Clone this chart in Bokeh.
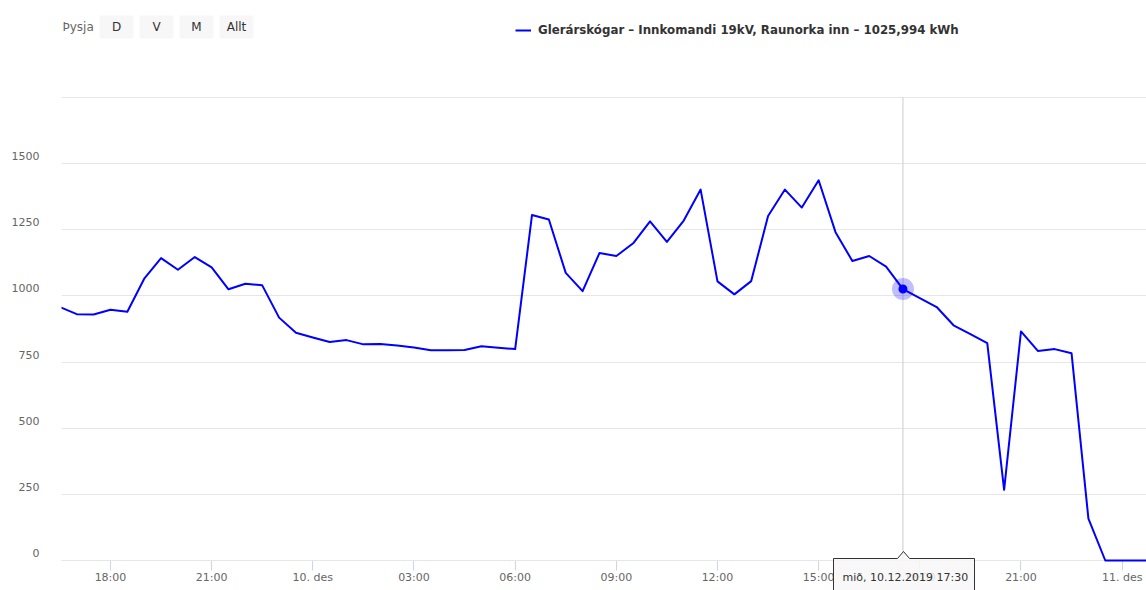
import pandas as pd
from bokeh.plotting import figure
from bokeh.models import (Range1d, FixedTicker, Label, BoxAnnotation, LinearAxis,
                          PolyAnnotation, ColumnDataSource)
from bokeh.embed import file_html
from bokeh.resources import INLINE

# ---------------- data ----------------
times = pd.date_range("2019-12-09 16:30", periods=66, freq="30min")
kwh = [958, 931, 930, 948, 940, 1065, 1143, 1099, 1147, 1108,
       1025, 1046, 1040, 918, 861, 843, 826, 833, 817, 818,
       813, 805, 795, 795, 796, 810, 804, 799, 1306, 1289,
       1087, 1018, 1162, 1151, 1199, 1282, 1204, 1285, 1402, 1055,
       1006, 1056, 1302, 1402, 1334, 1437, 1241, 1132, 1151, 1111,
       1025.994, 992, 958, 889, 856, 822, 267, 866, 792, 799,
       783, 158, 0, 0, 0, 0]
tick_times = pd.date_range("2019-12-09 18:00", "2019-12-11 00:00", freq="3h")
tick_labels = ["18:00", "21:00", "10. des", "03:00", "06:00", "09:00",
               "12:00", "15:00", "18:00", "21:00", "11. des"]
y_ticks = [0, 250, 500, 750, 1000, 1250, 1500, 1750]
y_max = 1750
series_name = "Glerárskógar – Innkomandi 19kV, Raunorka inn"
hover_time = pd.Timestamp("2019-12-10 17:30")
hover_value = 1025.994
hover_text = "mið, 10.12.2019 17:30"
zoom_label = "Þysja"
range_buttons = ["D", "V", "M", "Allt"]
view_start = pd.Timestamp("2019-12-09 16:32:50")
view_end = pd.Timestamp("2019-12-11 00:43:20")


def to_ms(t):
    return int(pd.Timestamp(t).value // 10**6)


FONT = "DejaVu Sans"
LINE_COLOR = "#0000ff"
W, H = 1146, 590
LEFT = 61                 # plot area left edge (px)
TOP_PX, ZERO_PX = 97, 560  # pixel rows of y_max and 0
ppu = (ZERO_PX - TOP_PX) / y_max          # pixels per kWh
y_lo = -(H - ZERO_PX) / ppu
y_hi = y_max + TOP_PX / ppu
lab_shift = 7.5 / ppu                      # y labels sit a little above grid lines

src = ColumnDataSource(dict(t=[to_ms(t) for t in times], v=kwh))

p = figure(width=W, height=H, x_axis_type="datetime",
           output_backend="svg", toolbar_location=None,
           x_range=Range1d(to_ms(view_start), to_ms(view_end)),
           y_range=Range1d(y_lo, y_hi),
           min_border_left=LEFT, min_border_right=0,
           min_border_top=0, min_border_bottom=0)
p.extra_y_ranges = {"lab": Range1d(y_lo - lab_shift, y_hi - lab_shift)}
p.outline_line_color = None
p.background_fill_color = "white"
p.border_fill_color = "white"

# grid
p.xgrid.grid_line_color = None
p.ygrid.ticker = FixedTicker(ticks=y_ticks)
p.ygrid.grid_line_color = "#e6e6e6"
p.ygrid.grid_line_width = 1

# y axis (labels only)
p.yaxis.visible = False
yax = LinearAxis(y_range_name="lab", ticker=FixedTicker(ticks=y_ticks),
                 major_label_overrides={1750: ""},
                 axis_line_color=None, major_tick_line_color=None,
                 minor_tick_line_color=None, major_label_standoff=16,
                 major_label_text_font=FONT, major_label_text_font_size="11px",
                 major_label_text_color="#666666")
p.add_layout(yax, "left")

# x axis, pinned at y = 0
tick_ms = [to_ms(t) for t in tick_times]
xa = p.xaxis[0]
xa.fixed_location = 0
xa.ticker = FixedTicker(ticks=tick_ms)
xa.major_label_overrides = {m: lab for m, lab in zip(tick_ms, tick_labels)}
xa.axis_line_color = "#ccd6eb"
xa.axis_line_width = 1
xa.major_tick_line_color = "#ccd6eb"
xa.major_tick_in = 0
xa.major_tick_out = 10
xa.minor_tick_line_color = None
xa.major_label_standoff = 0
xa.major_label_text_font = FONT
xa.major_label_text_font_size = "11px"
xa.major_label_text_color = "#666666"
xa.level = "underlay"

# crosshair
p.segment(x0=[to_ms(hover_time)], y0=[0], x1=[to_ms(hover_time)], y1=[y_max],
          line_color="#cccccc", line_width=1)

# series
p.line("t", "v", source=src, line_color=LINE_COLOR, line_width=2,
       line_join="round", legend_label=f"{series_name} – 1025,994 kWh")

# hover marker
hsrc = ColumnDataSource(dict(t=[to_ms(hover_time)], v=[hover_value]))
p.scatter("t", "v", source=hsrc, size=22, fill_color=LINE_COLOR,
          fill_alpha=0.25, line_color=None)
p.scatter("t", "v", source=hsrc, size=9, fill_color=LINE_COLOR,
          line_color=None)


# helpers: reference pixel -> frame screen coords (origin bottom-left)
def fx(x):
    return x - LEFT


def fy(y):
    return H - y


# legend
lg = p.legend[0]
lg.location = (fx(515), fy(30) - 10)
lg.glyph_width = 16
lg.glyph_height = 20
lg.label_height = 20
lg.label_standoff = 7
lg.padding = 0
lg.margin = 0
lg.border_line_color = None
lg.background_fill_alpha = 0
lg.label_text_font = FONT
lg.label_text_font_size = "11.8px"
lg.label_text_font_style = "bold"
lg.label_text_color = "#333333"

# range selector
p.add_layout(Label(x=fx(62), y=fy(26), x_units="screen", y_units="screen",
                   text=zoom_label, text_font=FONT, text_font_size="12px",
                   text_color="#666666", text_baseline="middle"))
btn_boxes = [(99, 133), (139, 173), (179, 213), (219, 253)]
for lab, (l, r) in zip(range_buttons, btn_boxes):
    p.add_layout(BoxAnnotation(left=fx(l), right=fx(r), top=fy(15), bottom=fy(38),
                               left_units="screen", right_units="screen",
                               top_units="screen", bottom_units="screen",
                               fill_color="#f7f7f7", fill_alpha=1,
                               line_color=None))
    p.add_layout(Label(x=fx((l + r) / 2), y=fy(26.5), x_units="screen",
                       y_units="screen", text=lab, text_font=FONT,
                       text_font_size="12px", text_color="#333333",
                       text_align="center", text_baseline="middle"))

# tooltip
tx = [833, 897, 903, 909, 974, 974, 833]
ty = [558, 558, 551, 558, 558, 610, 610]
p.add_layout(PolyAnnotation(xs=[fx(v) for v in tx], ys=[fy(v) for v in ty],
                            xs_units="screen", ys_units="screen",
                            fill_color="#f7f7f7", fill_alpha=0.85,
                            line_color="#333333", line_alpha=1, line_width=1,
                            level="overlay"))
p.add_layout(Label(x=fx(842), y=fy(577), x_units="screen", y_units="screen",
                   text=hover_text, text_font=FONT, text_font_size="11px",
                   text_color="#333333", text_baseline="middle",
                   level="overlay"))

open("out.html", "w").write(file_html(p, INLINE))
